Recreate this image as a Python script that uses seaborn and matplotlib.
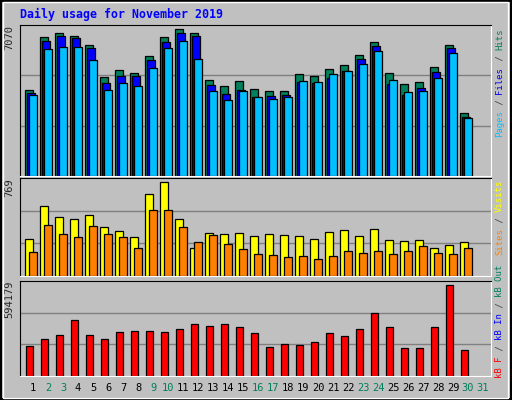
import matplotlib
matplotlib.use('Agg')
import matplotlib.pyplot as plt
import seaborn as sns

sns.set_style('white')
plt.rcParams['font.family'] = ['DejaVu Sans Mono']

days = list(range(1, 31))
hits = [4011, 6493, 6680, 6539, 6118, 4620, 4947, 4807, 5603, 6493, 6867, 6680, 4479, 4198, 4432,
        4058, 3964, 3964, 4760, 4666, 4994, 5181, 5650, 6258, 4807, 4292, 4386, 5088, 6118, 2934]
files = [3871, 6305, 6539, 6446, 5977, 4339, 4666, 4666, 5416, 6258, 6680, 6539, 4245, 3824, 4011,
         3683, 3730, 3777, 4386, 4339, 4573, 4901, 5462, 6071, 4292, 3777, 4105, 4854, 5977, 2747]
pages = [3777, 5931, 6024, 6024, 5416, 4011, 4339, 4198, 5041, 5977, 6305, 5462, 3964, 3543, 3964,
         3683, 3590, 3683, 4432, 4386, 4760, 4901, 5228, 5837, 4479, 3917, 3964, 4573, 5743, 2700]
visits = [288, 553, 465, 449, 481, 385, 352, 304, 641, 737, 449, 216, 336, 328, 336,
          312, 328, 320, 312, 288, 344, 360, 312, 368, 280, 272, 280, 216, 240, 264]
sites = [192, 400, 328, 304, 392, 328, 304, 216, 521, 521, 385, 264, 320, 248, 208,
         176, 168, 152, 160, 136, 160, 200, 184, 200, 176, 200, 232, 184, 176, 216]
kbytes = [187600, 231000, 256000, 350000, 256000, 231000, 275000, 281000, 281000, 275000,
          294000, 325000, 313000, 325000, 306000, 269000, 181000, 200000, 194000, 213000,
          269000, 250000, 294000, 394000, 306000, 175000, 175000, 306000, 569000, 163000]
day_labels = [str(d) for d in range(1, 32)]
weekend = [2, 3, 9, 10, 16, 17, 23, 24, 30, 31]
max_hits, max_visits, max_kb = 7070, 769, 594179

BG = '#c0c0c0'
fig = plt.figure(figsize=(5.12, 4.0), dpi=100, facecolor=BG)
# outer frame
fig.patches.append(plt.Rectangle((0.002, 0.002), 0.996, 0.996, transform=fig.transFigure,
                                 fill=False, edgecolor='black', lw=1.5))
fig.patches.append(plt.Rectangle((0.006, 0.006), 0.986, 0.988, transform=fig.transFigure,
                                 fill=False, edgecolor='white', lw=1))

fig.text(0.039, 0.963, 'Daily usage for November 2019', color='#0000ff',
         fontsize=8.4, fontweight='bold', va='center')


def make_axes(rect, ymax):
    ax = fig.add_axes(rect, facecolor=BG)
    ax.set_xlim(0.13, 31.53)
    ax.set_ylim(0, ymax)
    for y in (ymax / 3, 2 * ymax / 3):
        ax.axhline(y, color='#808080', lw=1, zorder=0)
    ax.set_xticks([])
    ax.set_yticks([])
    for s in ('left', 'top'):
        ax.spines[s].set_color('black')
    for s in ('right', 'bottom'):
        ax.spines[s].set_color('white')
    ax.text(-0.012, 1.0, str(ymax), transform=ax.transAxes, rotation=90,
            ha='right', va='top', fontsize=7.5)
    return ax


def bars(ax, offset, width, vals, color):
    ax.bar([d + offset for d in days], vals, width=width, align='edge',
           color=color, edgecolor='black', lw=0.9, zorder=2)


ax1 = make_axes([0.039, 0.56, 0.92, 0.3775], max_hits)
bars(ax1, -0.55, 0.55, hits, '#00805c')
bars(ax1, -0.42, 0.55, files, '#0000ff')
bars(ax1, -0.27, 0.53, pages, '#00c0ff')

ax2 = make_axes([0.039, 0.31, 0.92, 0.245], max_visits)
bars(ax2, -0.53, 0.55, visits, '#ffff00')
bars(ax2, -0.27, 0.55, sites, '#ff8000')

ax3 = make_axes([0.039, 0.06, 0.92, 0.2375], max_kb)
bars(ax3, -0.5, 0.47, kbytes, '#ff0000')

for i, lab in enumerate(day_labels):
    d = i + 1
    x = ax3.transData.transform((d, 0))[0] / 512
    fig.text(x, 0.03, lab, ha='center', va='center', fontsize=7.5,
             color='#00805c' if d in weekend else 'black')

# right side legends, reading bottom to top
CH = 5.43 / 400


def legend(y_bottom_px, parts):
    y = (400 - y_bottom_px) / 400
    for txt, col in parts:
        fig.text(0.976, y, txt, rotation=90, ha='center', va='bottom', fontsize=6.5, color=col)
        y += len(txt) * CH


legend(137, [('Pages', '#00c0ff'), (' / ', '#404040'), ('Files', '#0000ff'),
             (' / ', '#404040'), ('Hits', '#00805c')])
legend(255, [('Sites', '#ff8000'), (' / ', '#404040'), ('Visits', '#ffff00')])
legend(378, [('kB F', '#ff0000'), (' / ', '#404040'), ('kB In', '#0000ff'),
             (' / ', '#404040'), ('kB Out', '#00805c')])

fig.savefig('out.png', dpi=100, facecolor=BG)
